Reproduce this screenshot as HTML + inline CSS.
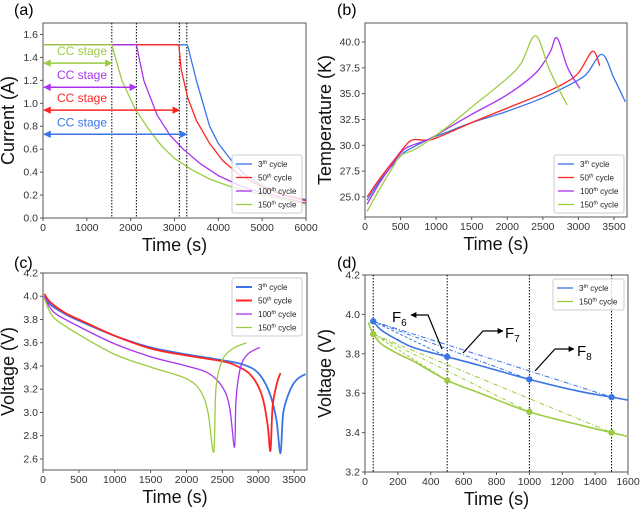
<!DOCTYPE html>
<html><head><meta charset="utf-8"><style>
body{margin:0;background:#fff;width:640px;height:512px;overflow:hidden}
svg{font-family:"Liberation Sans",Arial,sans-serif}
</style></head><body>
<svg id="s" width="640" height="512" viewBox="0 0 640 512">
<defs>
<marker id="ah" viewBox="0 0 10 10" refX="9" refY="5" markerWidth="5" markerHeight="5" orient="auto-start-reverse"><path d="M0,0L10,5L0,10z" fill="context-stroke"/></marker>
<marker id="bk" viewBox="0 0 10 10" refX="9" refY="5" markerWidth="5" markerHeight="5" orient="auto"><path d="M0,0L10,5L0,10z" fill="#000"/></marker>
</defs>
</svg>
<script>
const C={b:'#3a74e6',r:'#ff2424',p:'#a933ee',g:'#9ccc42'};
// ---- panel (a) data ----
const aCycles=['3','50','100','150'];
const aCurrent3=[[0,1.51],[3280,1.51],[3300,1.5],[3500,1.2],[3800,0.8],[4000,0.65],[4300,0.5],[4600,0.38],[5000,0.28],[5500,0.2],[6000,0.16]];
const aCurrent50=[[0,1.51],[3100,1.51],[3150,1.3],[3300,1.05],[3500,0.85],[3800,0.65],[4100,0.5],[4500,0.37],[5000,0.27],[5500,0.2],[6000,0.15]];
const aCurrent100=[[0,1.51],[2130,1.51],[2300,1.2],[2600,0.9],[2900,0.72],[3200,0.6],[3600,0.47],[4000,0.37],[4500,0.28],[5000,0.22],[6000,0.13]];
const aCurrent150=[[0,1.51],[1570,1.51],[1800,1.2],[2100,0.95],[2400,0.78],[2700,0.63],[3000,0.52],[3400,0.42],[3800,0.34],[4300,0.27],[5000,0.2],[6000,0.12]];
const aCCEnd=[3280,3110,2130,1570];
const aCCY=[0.73,0.94,1.14,1.35];
const aXTicks=[0,1000,2000,3000,4000,5000,6000];
const aYTicks=[0,0.2,0.4,0.6,0.8,1.0,1.2,1.4,1.6];
// ---- panel (b) data ----
const bTemp3=[[30,24.7],[200,26.5],[400,28.2],[550,29.3],[700,29.9],[900,30.6],[1200,31.4],[1500,32.2],[2000,33.3],[2500,34.6],[2800,35.6],[3100,36.8],[3330,38.8],[3500,36.5],[3660,34.2]];
const bTemp50=[[30,25],[200,26.7],[400,28.5],[600,30.2],[700,30.55],[850,30.5],[1000,30.7],[1500,32.2],[2000,33.6],[2500,35],[2800,36],[3000,37],[3200,39.1],[3300,37.7]];
const bTemp100=[[30,24.3],[200,26.3],[400,28.3],[550,29.6],[700,30.1],[900,30.6],[1200,31.8],[1500,33],[2000,34.9],[2400,37],[2600,39],[2700,40.4],[2850,37.5],[3020,35.5]];
const bTemp150=[[30,23.6],[200,25.7],[400,28],[500,29],[700,29.6],[900,30.5],[1200,32],[1500,33.7],[2000,36.5],[2200,38],[2400,40.6],[2600,37.2],[2840,33.9]];
const bXTicks=[0,500,1000,1500,2000,2500,3000,3500];
const bYTicks=[25.0,27.5,30.0,32.5,35.0,37.5,40.0];
// ---- panel (c) data ----
const cVolt3=[[20,4.0],[100,3.93],[300,3.85],[500,3.79],[1000,3.66],[1500,3.56],[2000,3.5],[2500,3.45],[2800,3.41],[3000,3.34],[3150,3.18],[3250,2.95],[3310,2.65],[3350,3.0],[3450,3.2],[3550,3.29],[3660,3.33]];
const cVolt50=[[20,4.02],[100,3.95],[300,3.86],[500,3.8],[1000,3.66],[1500,3.55],[2000,3.49],[2500,3.44],[2700,3.4],[2900,3.32],[3050,3.15],[3130,2.9],[3170,2.67],[3200,3.05],[3260,3.25],[3310,3.34]];
const cVolt100=[[20,3.99],[100,3.9],[200,3.84],[500,3.74],[1000,3.59],[1500,3.48],[2000,3.4],[2300,3.34],[2500,3.22],[2600,3.05],[2670,2.7],[2690,3.1],[2750,3.38],[2850,3.5],[3020,3.56]];
const cVolt150=[[20,3.98],[100,3.86],[200,3.79],[500,3.67],[1000,3.5],[1500,3.39],[2000,3.29],[2200,3.18],[2300,3.0],[2380,2.66],[2410,3.2],[2500,3.45],[2650,3.55],[2840,3.6]];
const cXTicks=[0,500,1000,1500,2000,2500,3000,3500];
const cYTicks=[2.6,2.8,3.0,3.2,3.4,3.6,3.8,4.0,4.2];
// ---- panel (d) data ----
const dVolt3=[[50,3.965],[100,3.92],[200,3.87],[300,3.83],[500,3.785],[700,3.74],[1000,3.67],[1300,3.61],[1500,3.58],[1600,3.565]];
const dVolt150=[[20,3.96],[50,3.9],[100,3.85],[200,3.8],[300,3.76],[500,3.665],[700,3.6],[1000,3.505],[1300,3.44],[1500,3.4],[1600,3.38]];
const dMarkT=[50,500,1000,1500];
const dMark3=[3.965,3.785,3.67,3.58];
const dMark150=[3.9,3.665,3.505,3.4];
const dXTicks=[0,200,400,600,800,1000,1200,1400,1600];
const dYTicks=[3.2,3.4,3.6,3.8,4.0,4.2];

const S=document.getElementById('s');
const NS='http://www.w3.org/2000/svg';
function mk(tag,at,parent){const e=document.createElementNS(NS,tag);for(const k in at)e.setAttribute(k,at[k]);(parent||S).appendChild(e);return e;}
function lin(d0,d1,r0,r1){return v=>r0+(v-d0)/(d1-d0)*(r1-r0);}
function frame(p){
  const g=mk('g',{});
  
  
  mk('rect',{x:p.x0,y:p.y0,width:p.x1-p.x0,height:p.y1-p.y0,fill:'none',stroke:'#555','stroke-width':1},g);
  p.xt.forEach(t=>{const x=p.sx(t);mk('line',{x1:x,x2:x,y1:p.y1,y2:p.y1+3,stroke:'#555'},g);
    const e=mk('text',{x:x,y:p.y1+13,'font-size':10.5,'text-anchor':'middle',fill:'#333'},g);e.textContent=p.xf(t);});
  p.yt.forEach(t=>{const y=p.sy(t);mk('line',{x1:p.x0-3,x2:p.x0,y1:y,y2:y,stroke:'#555'},g);
    const e=mk('text',{x:p.x0-5,y:y+3.5,'font-size':10.5,'text-anchor':'end',fill:'#333'},g);e.textContent=p.yf(t);});
  const xt=mk('text',{x:(p.x0+p.x1)/2,y:p.y1+33,'font-size':18,'text-anchor':'middle',fill:'#111'},g);xt.textContent='Time (s)';
  
  const yc=(p.y0+p.y1)/2;
  const yt=mk('text',{x:p.ytx,y:yc,'font-size':18,'text-anchor':'middle',fill:'#111',transform:`rotate(-90 ${p.ytx} ${yc})`},g);yt.textContent=p.ytitle;
  
  const lb=mk('text',{x:p.lx,y:p.ly,'font-size':16,fill:'#000'},g);lb.textContent=p.label;
  
}
function pathD(P){
  let d='M'+P[0][0].toFixed(1)+','+P[0][1].toFixed(1);
  for(let i=0;i<P.length-1;i++){
    const p0=P[i-1]||P[i],p1=P[i],p2=P[i+1],p3=P[i+2]||P[i+1];
    const k=1/6;
    d+='C'+(p1[0]+(p2[0]-p0[0])*k).toFixed(1)+','+(p1[1]+(p2[1]-p0[1])*k).toFixed(1)+' '+
      (p2[0]-(p3[0]-p1[0])*k).toFixed(1)+','+(p2[1]-(p3[1]-p1[1])*k).toFixed(1)+' '+p2[0].toFixed(1)+','+p2[1].toFixed(1);
  }
  return d;
}
function line(p,pts,col,name,w,dash,smooth){
  const P=pts.map(q=>[p.sx(q[0]),p.sy(q[1])]);
  const d=smooth===false?P.map((q,i)=>(i?'L':'M')+q[0].toFixed(1)+','+q[1].toFixed(1)).join(''):pathD(P);
  const e=mk('path',{d:d,fill:'none',stroke:col,'stroke-width':w||1.3,'stroke-linejoin':'round'});
  if(dash)e.setAttribute('stroke-dasharray',dash);
  
  
  return e;
}
function legend(x,y,w,entries,name){
  const g=mk('g',{});
  
  
  mk('rect',{x:x,y:y,width:w,height:entries.length*13.5+4,fill:'rgba(255,255,255,0.8)',stroke:'#ccc',rx:2},g);
  entries.forEach((en,i)=>{const yy=y+9+i*13.5;
    mk('line',{x1:x+4,x2:x+20,y1:yy,y2:yy,stroke:en[1],'stroke-width':en[2]||1.3},g);
    const t=mk('text',{x:x+26,y:yy+3,'font-size':8,fill:'#222'},g);
    t.innerHTML=en[0]+'<tspan font-size="5.5" dy="-3" font-style="italic">th</tspan><tspan dy="3"> cycle</tspan>';});
}
const f1=v=>v.toFixed(1);
// ---- (a) ----
const A={name:'current',x0:43,x1:306,y0:23,y1:218,label:'(a)',lx:14,ly:15,ytx:14,ytitle:'Current (A)',xt:aXTicks,yt:aYTicks,xf:String,yf:f1};
A.sx=lin(0,6000,43,306);A.sy=lin(0,1.7,218,23);
frame(A);
aCCEnd.forEach((t,i)=>{const e=mk('line',{x1:A.sx(t),x2:A.sx(t),y1:A.y0,y2:A.y1,stroke:'#000','stroke-width':1,'stroke-dasharray':'1.5,1.5'});
  });
line(A,aCurrent3,C.b,'current-3rd-cycle',1.3,null,false);line(A,aCurrent50,C.r,'current-50th-cycle',1.3,null,false);
line(A,aCurrent100,C.p,'current-100th-cycle',1.3,null,false);line(A,aCurrent150,C.g,'current-150th-cycle',1.3,null,false);
[C.b,C.r,C.p,C.g].forEach((c,i)=>{
  const e=mk('line',{x1:A.sx(0)+1,x2:A.sx(aCCEnd[i]),y1:A.sy(aCCY[i]),y2:A.sy(aCCY[i]),stroke:c,'stroke-width':1.5,'marker-start':'url(#ah)','marker-end':'url(#ah)'});
  
  const t=mk('text',{x:57,y:A.sy(aCCY[i])-8,'font-size':12,fill:c});t.textContent='CC stage';
  
});
legend(232,155,70,[['3',C.b],['50',C.r],['100',C.p],['150',C.g]],'current-legend');
// ---- (b) ----
const B={name:'temperature',x0:365,x1:627,y0:23,y1:217,label:'(b)',lx:337,ly:15,ytx:331,ytitle:'Temperature (K)',xt:bXTicks,yt:bYTicks,xf:String,yf:f1};
B.sx=lin(0,3683,365,627);B.sy=lin(23.06,41.84,217,23);
frame(B);
line(B,bTemp3,C.b,'temp-3rd-cycle');line(B,bTemp50,C.r,'temp-50th-cycle');
line(B,bTemp100,C.p,'temp-100th-cycle');line(B,bTemp150,C.g,'temp-150th-cycle');
legend(554,155,70,[['3',C.b],['50',C.r],['100',C.p],['150',C.g]],'temperature-legend');
// ---- (c) ----
const Cc={name:'voltage',x0:43,x1:307,y0:273,y1:470,label:'(c)',lx:14,ly:268,ytx:14,ytitle:'Voltage (V)',xt:cXTicks,yt:cYTicks,xf:String,yf:f1};
Cc.sx=lin(0,3680,43,307);Cc.sy=lin(2.505,4.2,470,273);
frame(Cc);
line(Cc,cVolt3,C.b,'voltage-3rd-cycle',1.8);line(Cc,cVolt50,C.r,'voltage-50th-cycle',1.8);
line(Cc,cVolt100,C.p,'voltage-100th-cycle');line(Cc,cVolt150,C.g,'voltage-150th-cycle');
legend(232,278,70,[['3',C.b,2],['50',C.r,2],['100',C.p],['150',C.g]],'voltage-legend');
// ---- (d) ----
const D={name:'voltage-zoom',x0:365,x1:628,y0:275,y1:472,label:'(d)',lx:337,ly:268,ytx:331,ytitle:'Voltage (V)',xt:dXTicks,yt:dYTicks,xf:String,yf:f1};
D.sx=lin(0,1600,365,628);D.sy=lin(3.2,4.2,472,275);
frame(D);
dMarkT.forEach(t=>{const e=mk('line',{x1:D.sx(t),x2:D.sx(t),y1:D.y0,y2:D.y1,stroke:'#000','stroke-width':1,'stroke-dasharray':'1.5,1.5'});
  });
const dashes=['3,2','4,2,1,2','5,2,1,2'];
for(let i=1;i<4;i++){
  line(D,[[dMarkT[0],dMark3[0]],[dMarkT[i],dMark3[i]]],C.b,'feature-line-3rd',1,dashes[i-1],false);
  line(D,[[dMarkT[0],dMark150[0]],[dMarkT[i],dMark150[i]]],C.g,'feature-line-150th',1,dashes[i-1],false);
}
line(D,dVolt3,C.b,'voltage-zoom-3rd-cycle',1.6);line(D,dVolt150,C.g,'voltage-zoom-150th-cycle',1.6);
dMarkT.forEach((t,i)=>{
  let e=mk('circle',{cx:D.sx(t),cy:D.sy(dMark3[i]),r:3.2,fill:C.b});
  e=mk('circle',{cx:D.sx(t),cy:D.sy(dMark150[i]),r:3.2,fill:C.g});
});
[['M442,349L428,315L411,315','F','6',392,322],['M463,353L483,331L503,331','F','7',505,338],['M535,371L555,349L574,349','F','8',577,356]].forEach((a,i)=>{
  const e=mk('path',{d:a[0],fill:'none',stroke:'#000','stroke-width':1.2,'marker-end':'url(#bk)'});
  
  const t=mk('text',{x:a[3],y:a[4],'font-size':15,fill:'#000'});t.innerHTML='F<tspan font-size="10" dy="4">'+a[2]+'</tspan>';
  
});
legend(553,279,71,[['3',C.b],['150',C.g]],'voltage-zoom-legend');
</script>
</body></html>
